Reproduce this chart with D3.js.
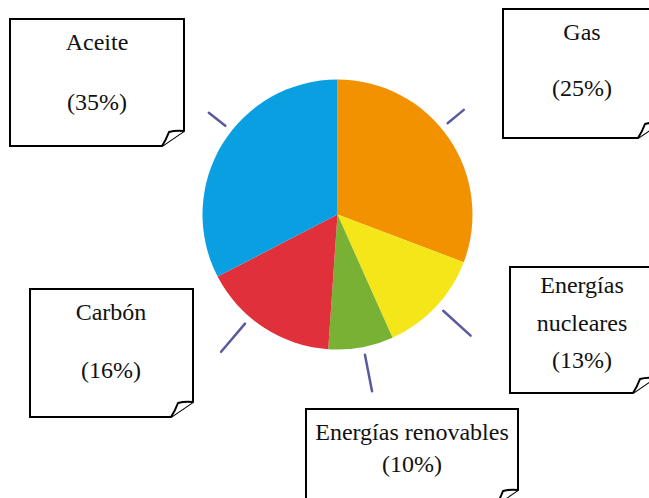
<!DOCTYPE html>
<html lang="es">
<head>
    <meta charset="UTF-8">
    <title>Fuentes de energía</title>
    <style>
        body {
            margin: 0;
            padding: 0;
            background-color: #fff;
            overflow: hidden;
        }
    </style>
</head>
<body>
    <div id="chart"></div>

    <script src="https://d3js.org/d3.v7.min.js"></script>
    <script>
        // categories, clockwise from 12 o'clock
        const categories = ["Gas", "Energías nucleares", "Energías renovables", "Carbón", "Aceite"];
        // slice sizes as drawn in the picture (percent of circle)
        const sliceShares = [30.75, 12.56, 7.78, 16.3, 32.6];
        // percentages written in the label boxes
        const labelPercents = ["25%", "13%", "10%", "16%", "35%"];

        const width = 649;
        const height = 498;
        const cx = 337.5, cy = 214.5, radius = 135;

        const color = d3.scaleOrdinal()
            .domain(categories)
            .range(["#f39200", "#f5e61a", "#78b133", "#e0303b", "#0a9fe0"]);

        // label boxes: corners, text lines, baselines and tick nudge (degrees)
        const boxes = {
            "Gas": { x0: 503, y0: 9, x1: 660, y1: 138, cx: 582, lines: ["Gas"], ys: [40, 96], nudge: -5 },
            "Energías nucleares": { x0: 510, y0: 267, x1: 655, y1: 393, cx: 582, lines: ["Energías", "nucleares"], ys: [293, 331, 368], nudge: -1 },
            "Energías renovables": { x0: 306, y0: 409, x1: 518, y1: 505, cx: 412, lines: ["Energías renovables"], ys: [440, 472], nudge: -1 },
            "Carbón": { x0: 30, y0: 289, x1: 193, y1: 417, cx: 111, lines: ["Carbón"], ys: [320, 378], nudge: 7 },
            "Aceite": { x0: 10, y0: 19, x1: 184, y1: 146, cx: 97, lines: ["Aceite"], ys: [50, 110], nudge: 7 }
        };

        const svg = d3.select("#chart")
            .append("svg")
            .attr("width", width)
            .attr("height", height);

        const pie = d3.pie()
            .sort(null)
            .value(d => d.value)
            .startAngle(0)
            .endAngle(2 * Math.PI);

        const data = categories.map((c, i) => ({ name: c, value: sliceShares[i], pct: labelPercents[i] }));
        const arcs = pie(data);

        const arc = d3.arc().innerRadius(0).outerRadius(radius);

        const g = svg.append("g").attr("transform", `translate(${cx},${cy})`);

        g.selectAll(".slice")
            .data(arcs)
            .enter().append("path")
            .attr("class", "slice")
            .attr("d", arc)
            .attr("fill", d => color(d.data.name));

        // small radial ticks pointing at each box
        g.selectAll(".tick")
            .data(arcs)
            .enter().append("line")
            .attr("class", "tick")
            .each(function (d) {
                const a = (d.startAngle + d.endAngle) / 2 + boxes[d.data.name].nudge * Math.PI / 180;
                const r0 = 143;
                const r1 = Math.cos(a) < 0 ? 180 : 164; // lower ticks are longer
                d3.select(this)
                    .attr("x1", r0 * Math.sin(a))
                    .attr("y1", -r0 * Math.cos(a))
                    .attr("x2", r1 * Math.sin(a))
                    .attr("y2", -r1 * Math.cos(a));
            })
            .attr("stroke", "#5a5a9e")
            .attr("stroke-width", 2.5)
            .attr("stroke-linecap", "round");

        // boxes with a curled bottom-right corner
        const fw = 22, fh = 15;
        const box = svg.selectAll(".box")
            .data(data)
            .enter().append("g")
            .attr("class", "box");

        box.append("path")
            .attr("d", d => {
                const b = boxes[d.name];
                return `M${b.x0},${b.y0} H${b.x1} V${b.y1 - fh} L${b.x1 - fw},${b.y1} H${b.x0} Z`;
            })
            .attr("fill", "#fff")
            .attr("stroke", "#000")
            .attr("stroke-width", 2);

        box.append("path")
            .attr("d", d => {
                const b = boxes[d.name];
                return `M${b.x1 - fw},${b.y1} Q${b.x1 - fw + 4},${b.y1 - 6} ${b.x1 - fw + 7},${b.y1 - fh + 1}` +
                    ` Q${b.x1 - 8},${b.y1 - fh - 1} ${b.x1},${b.y1 - fh}`;
            })
            .attr("fill", "#fff")
            .attr("stroke", "#000")
            .attr("stroke-width", 2)
            .attr("stroke-linejoin", "round");

        box.each(function (d) {
            const b = boxes[d.name];
            const lines = b.lines.concat([`(${d.pct})`]);
            d3.select(this).selectAll("text")
                .data(lines)
                .enter().append("text")
                .attr("x", b.cx)
                .attr("y", (t, i) => b.ys[i])
                .attr("text-anchor", "middle")
                .attr("font-family", "'Liberation Serif', 'Times New Roman', serif")
                .attr("font-size", 24)
                .attr("fill", "#111")
                .text(t => t);
        });
    </script>
</body>
</html>
